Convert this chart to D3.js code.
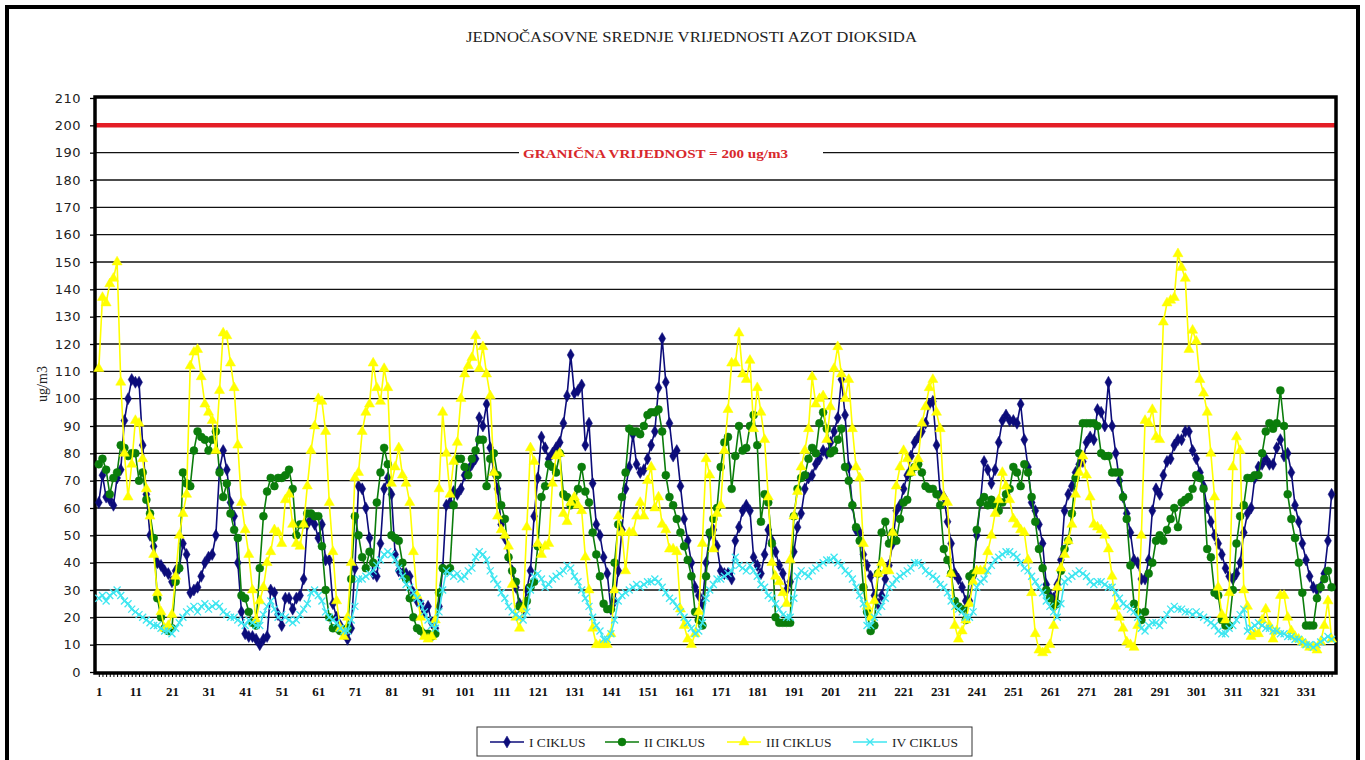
<!DOCTYPE html>
<html>
<head>
<meta charset="utf-8">
<script src="https://cdnjs.cloudflare.com/ajax/libs/d3/7.8.5/d3.min.js"></script>
<style>
  body { margin: 0; background: #fff; }
  svg { display: block; }
</style>
</head>
<body>
<svg id="chart" width="1365" height="760"></svg>
<script>
// hourly NO2 values, ug/m3
var ciklus1 = [
  62, 72, 64, 63, 61, 71, 74, 92, 100, 107,
  106, 106, 83, 65, 50, 46, 40, 39, 37, 36,
  33, 37, 38, 47, 43, 29, 30, 31, 35, 40,
  42, 43, 50, 74, 81, 74, 62, 57, 40, 22,
  14, 13, 13, 12, 10, 12, 13, 30, 29, 21,
  17, 27, 27, 23, 27, 28, 34, 54, 56, 54,
  49, 54, 41, 41, 25, 20, 17, 14, 12, 16,
  38, 68, 67, 60, 49, 36, 35, 47, 67, 71,
  65, 43, 37, 36, 36, 35, 29, 26, 25, 22,
  24, 18, 16, 24, 38, 61, 62, 66, 65, 67,
  72, 74, 76, 78, 93, 90, 98, 82, 73, 67,
  54, 49, 42, 37, 31, 25, 23, 30, 37, 57,
  71, 86, 82, 78, 80, 82, 84, 91, 101, 116,
  102, 103, 105, 83, 91, 69, 54, 50, 42, 36,
  23, 26, 37, 52, 67, 75, 87, 76, 73, 74,
  78, 83, 88, 104, 122, 106, 91, 79, 81, 68,
  56, 48, 40, 31, 28, 25, 40, 50, 52, 46,
  37, 36, 36, 34, 48, 53, 59, 61, 59, 42,
  39, 36, 43, 52, 48, 44, 39, 36, 30, 33,
  44, 53, 58, 67, 71, 72, 76, 78, 81, 80,
  84, 88, 93, 107, 94, 75, 61, 52, 51, 43,
  39, 35, 28, 25, 28, 34, 39, 47, 59, 61,
  67, 72, 79, 84, 86, 88, 91, 98, 99, 83,
  65, 64, 55, 47, 36, 34, 31, 26, 26, 35,
  50, 62, 77, 74, 69, 74, 84, 92, 94, 92,
  92, 91, 98, 85, 75, 62, 59, 54, 47, 32,
  28, 27, 32, 41, 59, 65, 68, 73, 76, 77,
  84, 86, 85, 96, 95, 90, 106, 90, 80, 70,
  64, 58, 51, 41, 40, 34, 34, 41, 59, 67,
  65, 72, 77, 78, 83, 85, 85, 88, 88, 81,
  78, 73, 68, 60, 55, 50, 47, 43, 38, 35,
  34, 36, 40, 51, 58, 60, 71, 75, 76, 78,
  76, 76, 82, 85, 79, 80, 73, 61, 55, 47,
  41, 35, 31, 30, 31, 36, 48, 65
];
var ciklus2 = [
  76, 78, 74, 65, 71, 73, 83, 82, 79, 80,
  80, 70, 73, 63, 58, 49, 27, 20, 16, 15,
  16, 33, 38, 73, 69, 68, 81, 88, 86, 85,
  81, 85, 88, 73, 64, 69, 58, 52, 49, 28,
  27, 22, 18, 17, 38, 57, 66, 71, 68, 71,
  71, 72, 74, 67, 50, 54, 54, 58, 58, 57,
  57, 46, 30, 20, 16, 16, 15, 15, 16, 34,
  57, 50, 42, 38, 44, 40, 62, 73, 82, 76,
  50, 49, 48, 40, 34, 27, 20, 16, 15, 14,
  14, 13, 14, 29, 38, 37, 38, 61, 78, 78,
  75, 72, 78, 81, 85, 85, 68, 78, 80, 72,
  61, 56, 42, 37, 33, 24, 24, 26, 31, 33,
  46, 64, 68, 76, 75, 73, 80, 65, 64, 61,
  62, 67, 75, 66, 62, 51, 43, 35, 25, 23,
  23, 40, 54, 64, 73, 89, 88, 88, 87, 90,
  94, 95, 95, 96, 88, 72, 64, 61, 56, 51,
  46, 41, 35, 22, 19, 17, 35, 51, 56, 60,
  75, 84, 86, 67, 79, 90, 81, 82, 90, 94,
  83, 55, 65, 62, 47, 20, 18, 18, 18, 18,
  57, 67, 71, 72, 78, 82, 80, 91, 95, 89,
  80, 81, 85, 89, 75, 70, 61, 53, 48, 31,
  22, 15, 17, 36, 51, 55, 47, 51, 48, 56,
  62, 63, 73, 75, 76, 73, 68, 67, 67, 65,
  61, 45, 41, 36, 26, 24, 23, 19, 35, 36,
  52, 62, 64, 61, 63, 61, 59, 62, 65, 67,
  75, 73, 68, 76, 73, 64, 55, 45, 38, 30,
  27, 24, 25, 37, 45, 48, 58, 71, 80, 91,
  91, 91, 91, 90, 80, 79, 79, 73, 73, 73,
  64, 56, 39, 25, 22, 19, 22, 36, 40, 48,
  50, 48, 52, 56, 60, 53, 62, 63, 64, 67,
  72, 71, 67, 45, 42, 29, 28, 19, 17, 17,
  30, 47, 57, 61, 71, 71, 72, 72, 80, 88,
  91, 89, 91, 103, 90, 65, 56, 49, 40, 29,
  17, 17, 17, 27, 31, 34, 37, 31
];
var ciklus3 = [
  111, 137, 135, 142, 144, 150, 106, 80, 64, 76,
  92, 91, 78, 67, 57, 43, 29, 22, 16, 17,
  21, 35, 50, 58, 65, 112, 117, 118, 108, 98,
  95, 92, 81, 103, 124, 123, 113, 104, 83, 62,
  52, 43, 30, 19, 26, 31, 40, 44, 52, 51,
  47, 63, 65, 54, 47, 46, 54, 68, 81, 90,
  100, 99, 88, 62, 44, 26, 16, 13, 20, 40,
  71, 73, 88, 95, 98, 113, 104, 99, 111, 104,
  69, 75, 82, 72, 69, 62, 44, 28, 20, 13,
  12, 13, 19, 67, 95, 80, 65, 77, 84, 100,
  109, 112, 115, 123, 111, 119, 109, 101, 73, 57,
  52, 50, 46, 32, 20, 16, 23, 53, 82, 77,
  47, 43, 46, 47, 69, 79, 80, 58, 55, 62,
  64, 61, 59, 42, 30, 16, 10, 10, 10, 10,
  14, 30, 57, 51, 37, 51, 51, 57, 62, 57,
  70, 75, 60, 64, 54, 52, 45, 45, 44, 23,
  17, 12, 10, 14, 22, 47, 78, 72, 45, 58,
  61, 81, 96, 113, 113, 124, 109, 107, 114, 89,
  104, 95, 85, 64, 40, 35, 33, 29, 25, 41,
  57, 66, 75, 81, 89, 108, 98, 100, 101, 85,
  97, 111, 119, 109, 100, 107, 89, 75, 71, 47,
  24, 20, 26, 36, 40, 37, 37, 51, 68, 75,
  81, 78, 73, 75, 78, 91, 97, 104, 107, 95,
  89, 64, 62, 36, 17, 12, 15, 19, 25, 33,
  37, 37, 37, 44, 50, 58, 63, 73, 68, 63,
  56, 54, 52, 51, 41, 29, 14, 8, 7, 8,
  10, 17, 31, 38, 43, 48, 54, 65, 73, 79,
  72, 64, 54, 53, 52, 50, 45, 35, 24, 20,
  16, 11, 10, 9, 17, 50, 92, 91, 96, 86,
  85, 128, 135, 136, 137, 153, 148, 144, 118, 125,
  121, 107, 102, 95, 80, 64, 31, 21, 19, 29,
  75, 86, 81, 30, 24, 13, 14, 14, 19, 23,
  17, 12, 15, 28, 28, 20, 15, 13, 12, 11,
  10, 9, 9, 8, 11, 17, 26, 12
];
var ciklus4 = [
  27, 28, 26, 28, 29, 30, 28, 26, 25, 23,
  22, 21, 20, 19, 18, 17, 17, 16, 15, 15,
  14, 16, 18, 20, 22, 23, 24, 22, 24, 25,
  23, 24, 25, 24, 22, 21, 20, 20, 19, 18,
  17, 19, 18, 17, 17, 21, 24, 26, 23, 20,
  21, 20, 19, 18, 19, 21, 23, 25, 29, 30,
  28, 26, 22, 20, 19, 18, 16, 15, 15, 19,
  24, 34, 34, 35, 36, 37, 39, 41, 43, 44,
  43, 41, 38, 35, 32, 31, 29, 27, 25, 22,
  19, 17, 16, 22, 30, 37, 36, 35, 36, 34,
  35, 37, 38, 42, 44, 43, 41, 37, 34, 32,
  29, 27, 24, 22, 21, 20, 19, 22, 30, 35,
  36, 34, 31, 32, 34, 35, 36, 37, 39, 38,
  35, 33, 30, 27, 24, 20, 17, 15, 12, 12,
  14, 19, 26, 28, 29, 30, 31, 32, 31, 32,
  33, 33, 34, 33, 31, 29, 27, 26, 24, 22,
  20, 18, 16, 14, 15, 18, 27, 30, 32, 34,
  34, 35, 36, 37, 42, 39, 38, 37, 39, 37,
  35, 32, 31, 28, 27, 25, 23, 21, 20, 20,
  27, 35, 37, 36, 35, 37, 38, 39, 40, 41,
  41, 42, 40, 39, 37, 36, 34, 31, 28, 25,
  17, 17, 20, 22, 24, 27, 31, 32, 34, 35,
  36, 37, 38, 40, 40, 39, 37, 36, 35, 34,
  32, 31, 29, 26, 24, 23, 22, 20, 20, 22,
  31, 33, 34, 37, 39, 41, 42, 43, 44, 44,
  43, 42, 40, 38, 37, 35, 33, 31, 29, 26,
  24, 22, 20, 25, 33, 34, 35, 36, 37, 36,
  35, 33, 32, 33, 33, 32, 31, 31, 29, 27,
  25, 24, 23, 22, 20, 16, 15, 17, 18, 18,
  17, 19, 21, 23, 24, 23, 23, 22, 22, 21,
  22, 21, 20, 19, 18, 17, 15, 14, 14, 16,
  17, 19, 21, 23, 15, 16, 17, 18, 17, 16,
  16, 15, 15, 14, 14, 13, 13, 12, 12, 11,
  10, 10, 9, 10, 11, 12, 13, 12
];

var seriesNames = ["I CIKLUS", "II CIKLUS", "III CIKLUS", "IV CIKLUS"];
var xTickLabels = [1, 11, 21, 31, 41, 51, 61, 71, 81, 91, 101, 111, 121, 131, 141, 151, 161, 171, 181, 191, 201, 211, 221, 231, 241, 251, 261, 271, 281, 291, 301, 311, 321, 331];
var yTickValues = [0, 10, 20, 30, 40, 50, 60, 70, 80, 90, 100, 110, 120, 130, 140, 150, 160, 170, 180, 190, 200, 210];
var limitValue = 200;
var limitLabel = "GRANIČNA VRIJEDNOST = 200 ug/m3";
var titleText = "JEDNOČASOVNE SREDNJE VRIJEDNOSTI AZOT DIOKSIDA";

var svg = d3.select("#chart");
var hours = d3.range(1, ciklus1.length + 1);
var plot = { left: 95, right: 1336, top: 97, bottom: 673 };

var x = d3.scalePoint().domain(hours).range([98.8, 1331.6]);
var y = d3.scaleLinear().domain([0, 210]).range([672, 98]);

var styles = [
    { color: "#0c0c7a", marker: "diamond" },
    { color: "#0b7d0b", marker: "circle" },
    { color: "#ffff00", marker: "triangle" },
    { color: "#3fe6f0", marker: "cross" }
];
var series = [ciklus1, ciklus2, ciklus3, ciklus4].map(function(vals, i) {
    return { id: seriesNames[i], style: styles[i],
             values: vals.map(function(v, j) { return { hour: hours[j], value: v }; }) };
});

// outer frame
svg.append("rect")
    .attr("x", 7).attr("y", 7)
    .attr("width", 1351).attr("height", 800)
    .attr("fill", "#fff").attr("stroke", "#000").attr("stroke-width", 4);

svg.append("text")
    .attr("x", 466).attr("y", 42)
    .attr("textLength", 451).attr("lengthAdjust", "spacingAndGlyphs")
    .style("font", "14px 'Liberation Serif', serif")
    .attr("fill", "#222")
    .text(titleText);

// gridlines
svg.append("g").selectAll("line")
    .data(yTickValues.filter(function(v) { return v > 0 && v < 210; }))
    .enter().append("line")
    .attr("x1", plot.left).attr("x2", plot.right)
    .attr("y1", function(d) { return y(d); })
    .attr("y2", function(d) { return y(d); })
    .attr("stroke", "#111").attr("stroke-width", 1.4);

// limit label sits on the 190 line
svg.append("rect")
    .attr("x", 519).attr("y", y(190) - 9)
    .attr("width", 304).attr("height", 18)
    .attr("fill", "#fff");
svg.append("text")
    .attr("x", 523).attr("y", y(190) + 5)
    .attr("textLength", 265).attr("lengthAdjust", "spacingAndGlyphs")
    .style("font", "bold 13.5px 'Liberation Serif', serif")
    .attr("fill", "#d8282c")
    .text(limitLabel);

svg.append("line")
    .attr("x1", plot.left).attr("x2", plot.right)
    .attr("y1", y(limitValue)).attr("y2", y(limitValue))
    .attr("stroke", "#e41e26").attr("stroke-width", 4.5);

// axes
var yAxis = svg.append("g")
    .attr("transform", "translate(" + plot.left + ",0)")
    .call(d3.axisLeft(y).tickValues(yTickValues).tickSize(5).tickPadding(9));
yAxis.select(".domain").remove();
yAxis.selectAll("line").attr("stroke", "#000").attr("stroke-width", 1.3);
yAxis.selectAll("text")
    .style("font", "13px 'DejaVu Sans', sans-serif")
    .style("letter-spacing", "0.5px")
    .attr("fill", "#222");

var xAxis = svg.append("g")
    .attr("transform", "translate(0," + plot.bottom + ")")
    .call(d3.axisBottom(x).tickValues(hours).tickSize(4).tickPadding(10)
        .tickFormat(function(d) { return xTickLabels.indexOf(d) >= 0 ? d : ""; }));
xAxis.select(".domain").remove();
xAxis.selectAll("line").attr("stroke", "#000").attr("stroke-width", 1);
xAxis.selectAll("text")
    .style("font", "bold 13px 'Liberation Serif', serif")
    .attr("fill", "#111");

svg.append("rect")
    .attr("x", plot.left).attr("y", plot.top)
    .attr("width", plot.right - plot.left).attr("height", plot.bottom - plot.top)
    .attr("fill", "none").attr("stroke", "#000").attr("stroke-width", 3.5);

svg.append("text")
    .attr("transform", "translate(47,384) rotate(-90)")
    .attr("text-anchor", "middle")
    .style("font", "14px 'Liberation Serif', serif")
    .attr("fill", "#222")
    .text("ug/m3");

// markers
function markerPath(type) {
    if (type == "diamond") return d3.symbol().type(d3.symbolDiamond).size(42)();
    if (type == "circle") return d3.symbol().type(d3.symbolCircle).size(50)();
    if (type == "triangle") return d3.symbol().type(d3.symbolTriangle).size(44)();
    return "M-3.5,-3.5L3.5,3.5M-3.5,3.5L3.5,-3.5";
}

var line = d3.line()
    .x(function(d) { return x(d.hour); })
    .y(function(d) { return y(d.value); });

var s = svg.selectAll(".series")
    .data(series)
    .enter().append("g")
    .attr("class", "series");

s.append("path")
    .attr("d", function(d) { return line(d.values); })
    .attr("fill", "none")
    .attr("stroke", function(d) { return d.style.color; })
    .attr("stroke-width", 1.6);

s.each(function(ser) {
    var p = markerPath(ser.style.marker);
    d3.select(this).selectAll(".pt")
        .data(ser.values)
        .enter().append("path")
        .attr("class", "pt")
        .attr("d", p)
        .attr("transform", function(d) { return "translate(" + x(d.hour) + "," + y(d.value) + ")"; })
        .attr("fill", ser.style.marker == "cross" ? "none" : ser.style.color)
        .attr("stroke", ser.style.color)
        .attr("stroke-width", ser.style.marker == "cross" ? 1.3 : 0.5);
});

// legend
var legend = svg.append("g");
legend.append("rect")
    .attr("x", 477).attr("y", 727)
    .attr("width", 495).attr("height", 29)
    .attr("fill", "#fff").attr("stroke", "#333").attr("stroke-width", 1);

var legendX = [490, 605, 727, 853];
var legendItem = legend.selectAll(".item")
    .data(series)
    .enter().append("g")
    .attr("class", "item")
    .attr("transform", function(d, i) { return "translate(" + legendX[i] + ",742)"; });
legendItem.append("line")
    .attr("x1", 0).attr("x2", 34)
    .attr("stroke", function(d) { return d.style.color; })
    .attr("stroke-width", 1.5);
legendItem.append("path")
    .attr("d", function(d) { return markerPath(d.style.marker); })
    .attr("transform", "translate(17,0)")
    .attr("fill", function(d) { return d.style.marker == "cross" ? "none" : d.style.color; })
    .attr("stroke", function(d) { return d.style.color; })
    .attr("stroke-width", function(d) { return d.style.marker == "cross" ? 1.3 : 0.5; });
legendItem.append("text")
    .attr("x", 39).attr("y", 5)
    .style("font", "13.5px 'Liberation Serif', serif")
    .attr("fill", "#222")
    .text(function(d) { return d.id; });
</script>
</body>
</html>
